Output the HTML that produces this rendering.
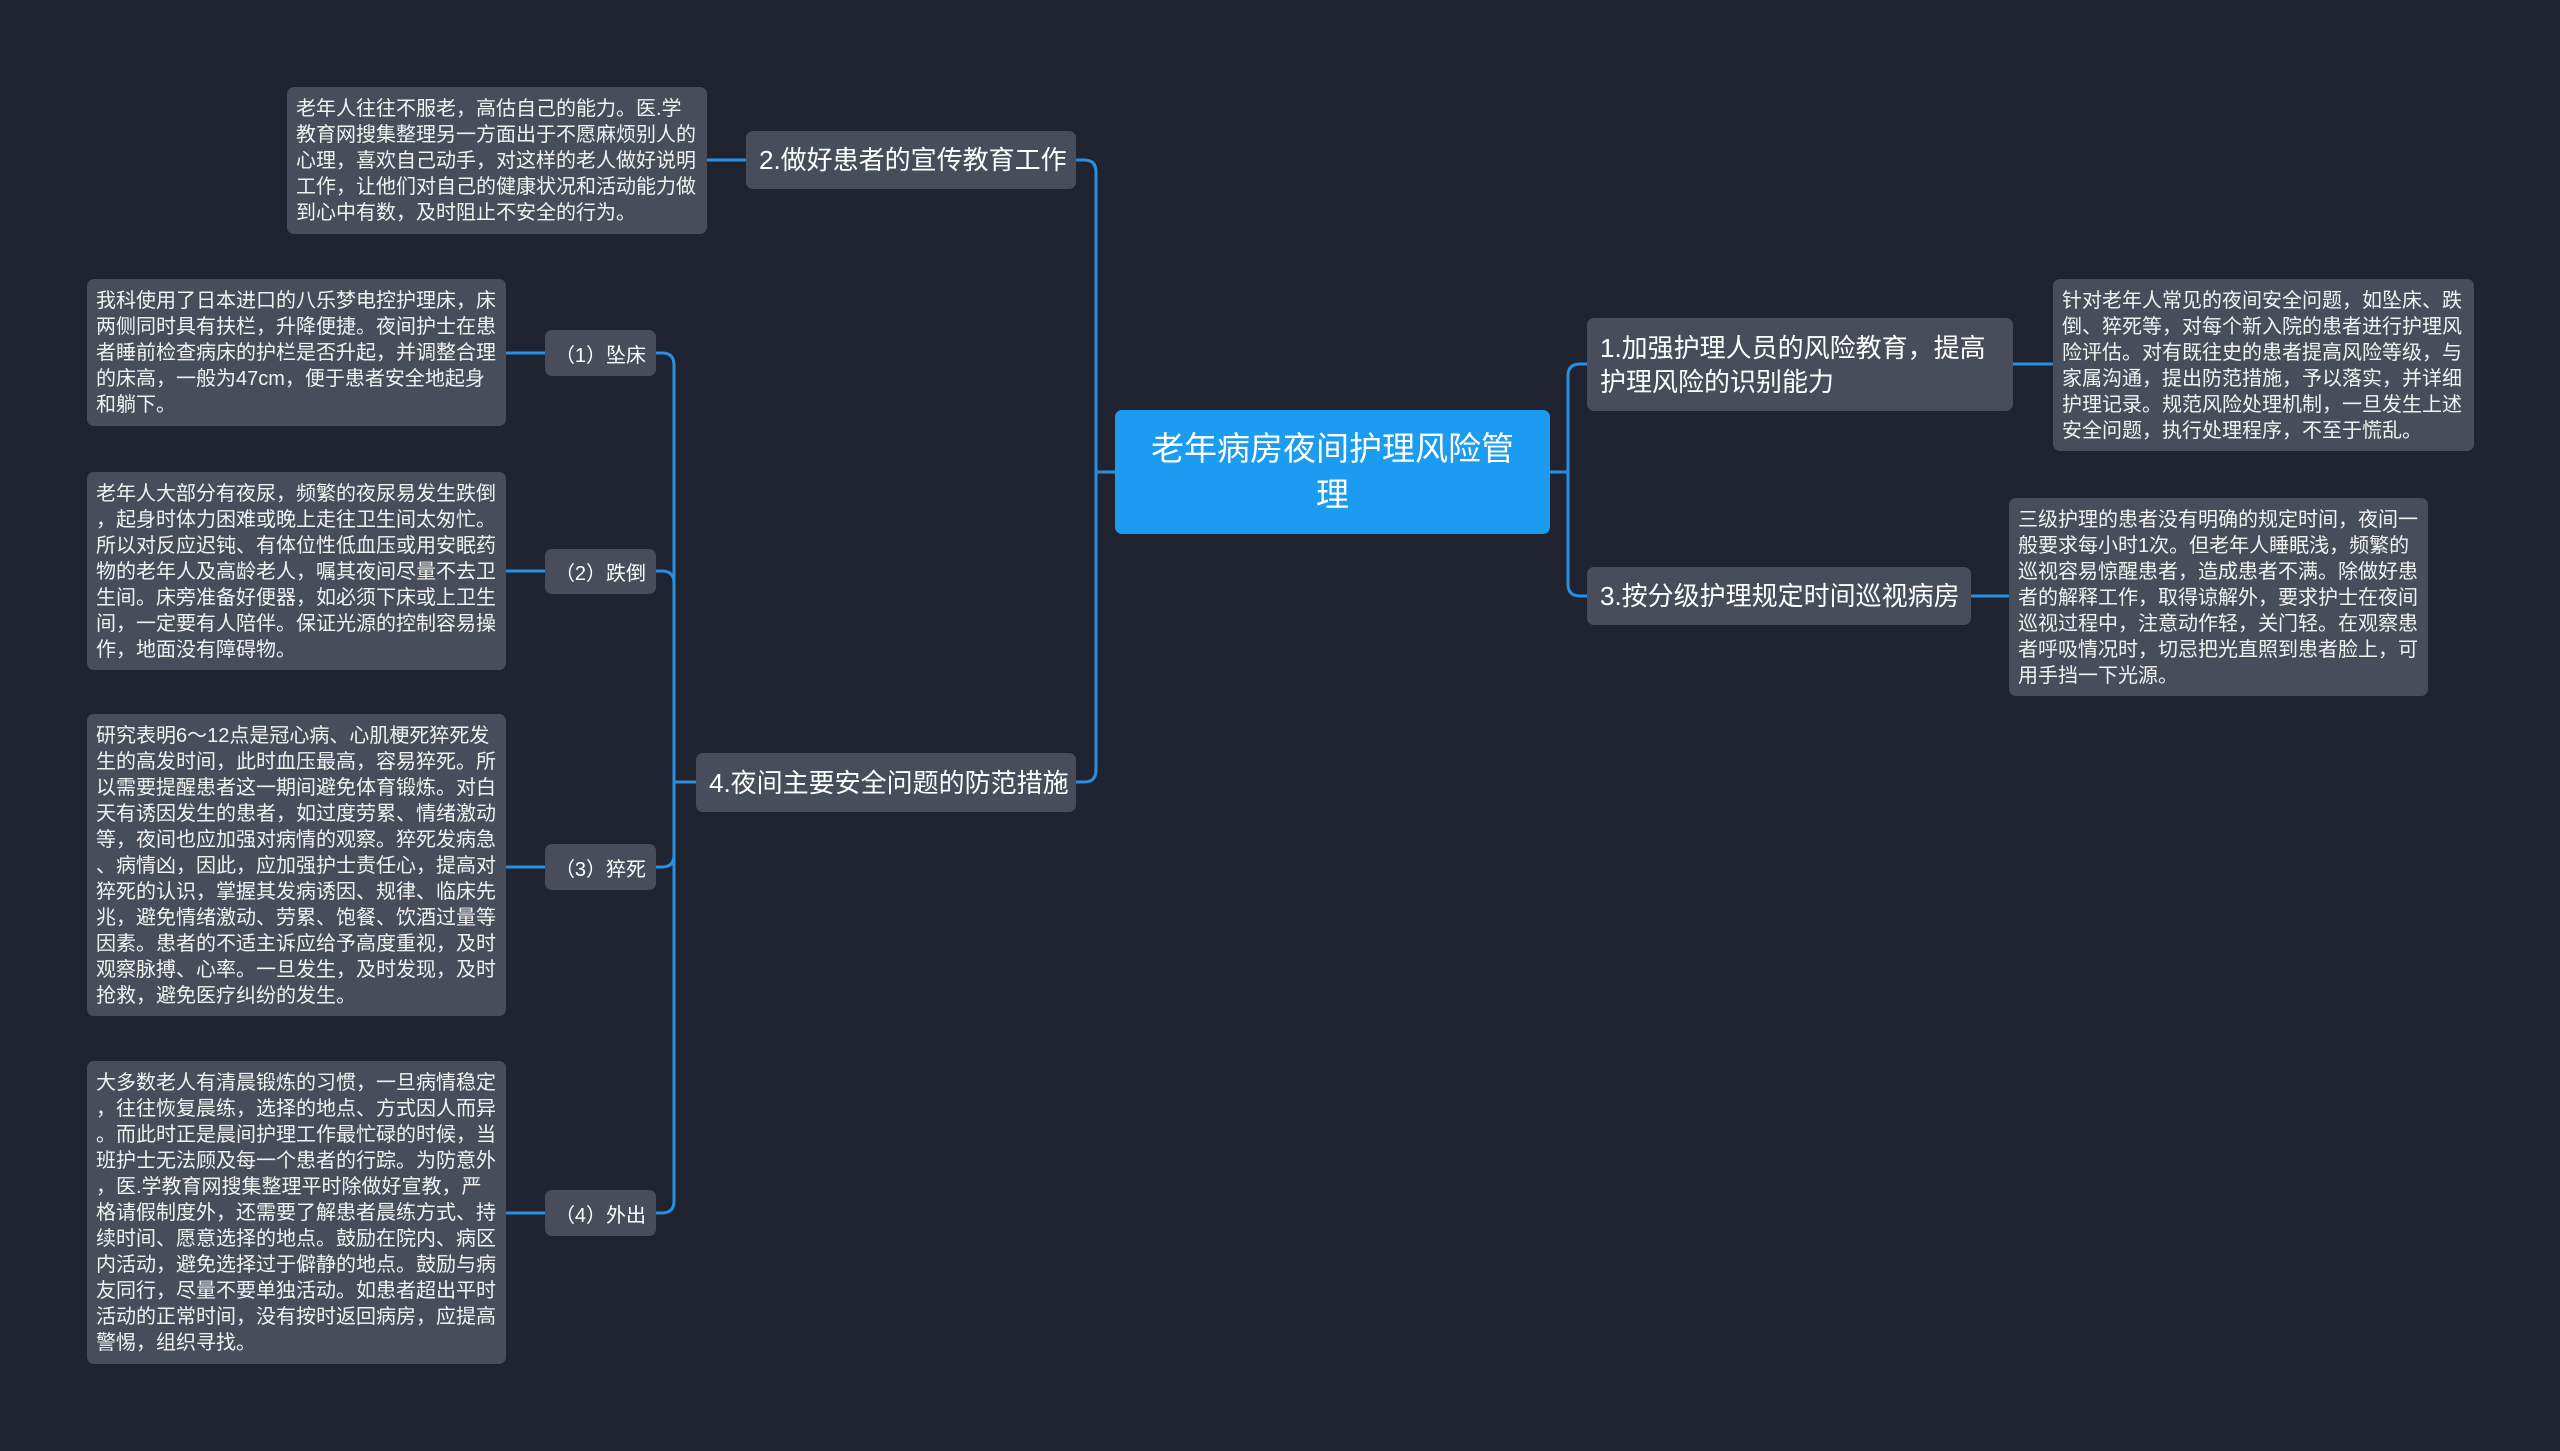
<!DOCTYPE html>
<html><head><meta charset="utf-8"><style>
body{margin:0;width:2560px;height:1451px;background:#1f2430;position:relative;overflow:hidden;font-family:"Liberation Sans","Noto Sans CJK SC",sans-serif;color:#fff}
.b{position:absolute;background:#474d5b;border-radius:7px;box-sizing:border-box}
.d{font-size:20px;line-height:26px;padding:9px 9px 7px;white-space:nowrap;color:#f2f2f2}
.l1{font-size:26px;line-height:34px;padding:0 13px;display:flex;align-items:center;white-space:nowrap}
.it{font-size:20px;display:flex;align-items:center;justify-content:center}
svg{position:absolute;left:0;top:0}
</style></head><body>
<svg width="2560" height="1451"><g fill="none" stroke="#2a8fe3" stroke-width="3">
<path d="M707 160H746"/>
<path d="M1076 160H1084Q1096 160 1096 172V770Q1096 782 1084 782H1076"/>
<path d="M1096 472H1115"/>
<path d="M1550 472H1568"/>
<path d="M1587 364H1580Q1568 364 1568 376V584Q1568 596 1580 596H1587"/>
<path d="M2013 364H2053"/><path d="M1971 596H2009"/>
<path d="M696 782H674"/>
<path d="M656 353H662Q674 353 674 365V1201Q674 1213 662 1213H656"/>
<path d="M656 571H662Q674 571 674 583"/>
<path d="M656 867H662Q674 867 674 855"/>
<path d="M545 353H506"/><path d="M545 571H506"/><path d="M545 867H506"/><path d="M545 1213H506"/>
</g></svg>

<div class="b" style="left:1115px;top:410px;width:435px;height:124px;background:#1b9cf0;font-size:33px;line-height:46px;text-align:center;padding-top:16px">老年病房夜间护理风险管<br>理</div>

<div class="b l1" style="left:1587px;top:318px;width:426px;height:93px">1.加强护理人员的风险教育，提高<br>护理风险的识别能力</div>
<div class="b d" style="left:2053px;top:279px;width:421px;height:172px">针对老年人常见的夜间安全问题，如坠床、跌<br>倒、猝死等，对每个新入院的患者进行护理风<br>险评估。对有既往史的患者提高风险等级，与<br>家属沟通，提出防范措施，予以落实，并详细<br>护理记录。规范风险处理机制，一旦发生上述<br>安全问题，执行处理程序，不至于慌乱。</div>

<div class="b l1" style="left:1587px;top:567px;width:384px;height:58px">3.按分级护理规定时间巡视病房</div>
<div class="b d" style="left:2009px;top:498px;width:419px;height:198px">三级护理的患者没有明确的规定时间，夜间一<br>般要求每小时1次。但老年人睡眠浅，频繁的<br>巡视容易惊醒患者，造成患者不满。除做好患<br>者的解释工作，取得谅解外，要求护士在夜间<br>巡视过程中，注意动作轻，关门轻。在观察患<br>者呼吸情况时，切忌把光直照到患者脸上，可<br>用手挡一下光源。</div>

<div class="b l1" style="left:746px;top:131px;width:330px;height:58px">2.做好患者的宣传教育工作</div>
<div class="b d" style="left:287px;top:87px;width:420px;height:147px">老年人往往不服老，高估自己的能力。医.学<br>教育网搜集整理另一方面出于不愿麻烦别人的<br>心理，喜欢自己动手，对这样的老人做好说明<br>工作，让他们对自己的健康状况和活动能力做<br>到心中有数，及时阻止不安全的行为。</div>

<div class="b l1" style="left:696px;top:753px;width:380px;height:59px">4.夜间主要安全问题的防范措施</div>

<div class="b it" style="left:545px;top:330px;width:111px;height:46px">（1）坠床</div>
<div class="b it" style="left:545px;top:549px;width:111px;height:45px">（2）跌倒</div>
<div class="b it" style="left:545px;top:844px;width:111px;height:46px">（3）猝死</div>
<div class="b it" style="left:545px;top:1190px;width:111px;height:46px">（4）外出</div>

<div class="b d" style="left:87px;top:279px;width:419px;height:147px">我科使用了日本进口的八乐梦电控护理床，床<br>两侧同时具有扶栏，升降便捷。夜间护士在患<br>者睡前检查病床的护栏是否升起，并调整合理<br>的床高，一般为47cm，便于患者安全地起身<br>和躺下。</div>
<div class="b d" style="left:87px;top:472px;width:419px;height:198px">老年人大部分有夜尿，频繁的夜尿易发生跌倒<br>，起身时体力困难或晚上走往卫生间太匆忙。<br>所以对反应迟钝、有体位性低血压或用安眠药<br>物的老年人及高龄老人，嘱其夜间尽量不去卫<br>生间。床旁准备好便器，如必须下床或上卫生<br>间，一定要有人陪伴。保证光源的控制容易操<br>作，地面没有障碍物。</div>
<div class="b d" style="left:87px;top:714px;width:419px;height:302px">研究表明6～12点是冠心病、心肌梗死猝死发<br>生的高发时间，此时血压最高，容易猝死。所<br>以需要提醒患者这一期间避免体育锻炼。对白<br>天有诱因发生的患者，如过度劳累、情绪激动<br>等，夜间也应加强对病情的观察。猝死发病急<br>、病情凶，因此，应加强护士责任心，提高对<br>猝死的认识，掌握其发病诱因、规律、临床先<br>兆，避免情绪激动、劳累、饱餐、饮酒过量等<br>因素。患者的不适主诉应给予高度重视，及时<br>观察脉搏、心率。一旦发生，及时发现，及时<br>抢救，避免医疗纠纷的发生。</div>
<div class="b d" style="left:87px;top:1061px;width:419px;height:303px">大多数老人有清晨锻炼的习惯，一旦病情稳定<br>，往往恢复晨练，选择的地点、方式因人而异<br>。而此时正是晨间护理工作最忙碌的时候，当<br>班护士无法顾及每一个患者的行踪。为防意外<br>，医.学教育网搜集整理平时除做好宣教，严<br>格请假制度外，还需要了解患者晨练方式、持<br>续时间、愿意选择的地点。鼓励在院内、病区<br>内活动，避免选择过于僻静的地点。鼓励与病<br>友同行，尽量不要单独活动。如患者超出平时<br>活动的正常时间，没有按时返回病房，应提高<br>警惕，组织寻找。</div>
</body></html>
